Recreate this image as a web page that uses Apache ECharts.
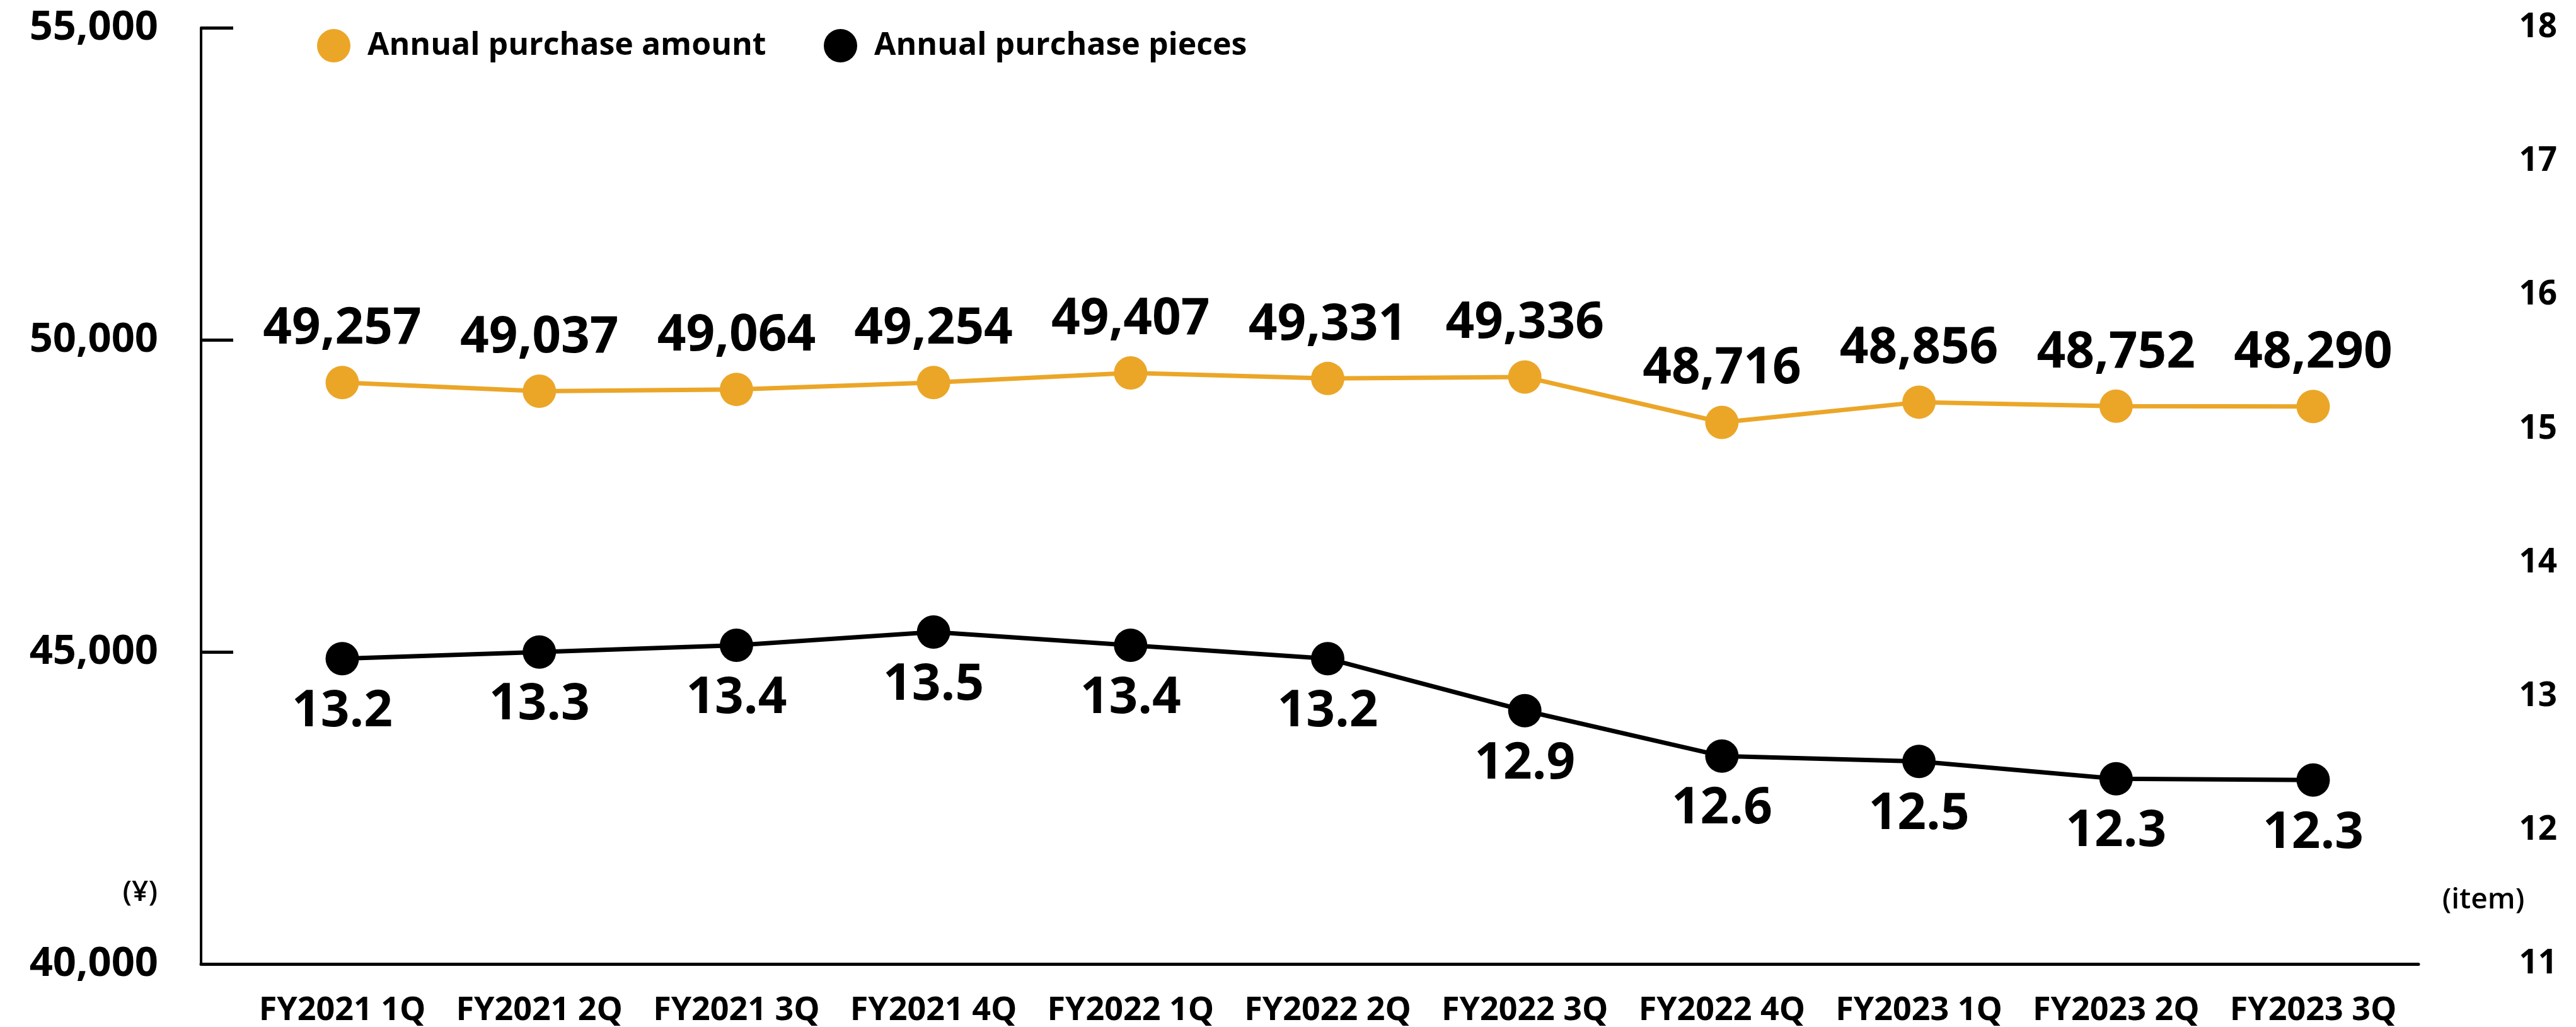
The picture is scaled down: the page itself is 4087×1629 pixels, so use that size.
<!DOCTYPE html>
<html>
<head>
<meta charset="utf-8">
<script src="https://cdn.jsdelivr.net/npm/echarts@6/dist/echarts.min.js"></script>
<style>
  html, body { margin: 0; padding: 0; background: #ffffff; }
  #chart { width: 4087px; height: 1629px; }
</style>
</head>
<body>
<div id="chart"></div>
<script>
// ---- data ----
const categories = ['FY2021 1Q', 'FY2021 2Q', 'FY2021 3Q', 'FY2021 4Q', 'FY2022 1Q', 'FY2022 2Q',
                    'FY2022 3Q', 'FY2022 4Q', 'FY2023 1Q', 'FY2023 2Q', 'FY2023 3Q'];
// plotted positions
const amountValues = [49300, 49160, 49190, 49300, 49455, 49365, 49390, 48660, 48985, 48920, 48915];
const piecesValues = [13.27, 13.32, 13.37, 13.47, 13.37, 13.27, 12.88, 12.54, 12.50, 12.37, 12.36];
// printed data labels
const amountLabels = ['49,257', '49,037', '49,064', '49,254', '49,407', '49,331', '49,336', '48,716', '48,856', '48,752', '48,290'];
const piecesLabels = ['13.2', '13.3', '13.4', '13.5', '13.4', '13.2', '12.9', '12.6', '12.5', '12.3', '12.3'];
const amountName = 'Annual purchase amount';
const piecesName = 'Annual purchase pieces';
const leftAxisTicks = [40000, 55000, 5000];   // min, max, interval
const rightAxisTicks = [11, 18, 1];

// ---- style ----
const ORANGE = '#EBA628';
const INK = '#000000';
const FONT = '"Open Sans", "DejaVu Sans", sans-serif';

const chart = echarts.init(document.getElementById('chart'), null, { renderer: 'canvas' });

const option = {
  backgroundColor: '#ffffff',
  animation: false,
  textStyle: { fontFamily: FONT, color: INK },
  legend: [
    {
      left: 503, top: 46, padding: 0,
      icon: 'circle', itemWidth: 53, itemHeight: 53,
      data: [amountName],
      textStyle: { fontFamily: FONT, fontSize: 50, fontWeight: 'bold', color: INK, padding: [0, 0, 0, 22] }
    },
    {
      left: 1307, top: 46, padding: 0,
      icon: 'circle', itemWidth: 53, itemHeight: 53,
      data: [piecesName],
      textStyle: { fontFamily: FONT, fontSize: 50, fontWeight: 'bold', color: INK, padding: [0, 0, 0, 22] }
    }
  ],
  grid: [
    { left: 319, right: 250, top: 44, bottom: 100, containLabel: false },
    { left: 543, right: 417, top: 44, bottom: 100, containLabel: false }
  ],
  xAxis: [
    {
      gridIndex: 0, type: 'category', data: [''], boundaryGap: true,
      axisLine: { show: true, lineStyle: { color: INK, width: 5 } },
      axisTick: { show: false }, axisLabel: { show: false }, splitLine: { show: false }
    },
    {
      gridIndex: 1, type: 'category', data: categories, boundaryGap: false,
      axisLine: { show: false }, axisTick: { show: false }, splitLine: { show: false },
      axisLabel: { interval: 0, margin: 52, fontFamily: FONT, fontSize: 52, fontWeight: 'bold', color: INK }
    }
  ],
  yAxis: [
    {
      gridIndex: 0, type: 'value', position: 'left',
      min: leftAxisTicks[0], max: leftAxisTicks[1], interval: leftAxisTicks[2],
      axisLine: { show: true, lineStyle: { color: INK, width: 4 } },
      axisTick: { show: true, inside: true, length: 51, lineStyle: { color: INK, width: 5 } },
      splitLine: { show: false },
      axisLabel: {
        margin: 68, fontFamily: FONT, fontSize: 65, fontWeight: 'bold', color: INK,
        formatter: v => v.toLocaleString('en-US')
      }
    },
    {
      gridIndex: 0, type: 'value', position: 'right',
      min: rightAxisTicks[0], max: rightAxisTicks[1], interval: rightAxisTicks[2],
      axisLine: { show: false }, axisTick: { show: false }, splitLine: { show: false },
      axisLabel: { margin: 220, align: 'right', fontFamily: FONT, fontSize: 53, fontWeight: 'bold', color: INK }
    },
    {
      gridIndex: 1, type: 'value', show: false,
      min: leftAxisTicks[0], max: leftAxisTicks[1], interval: leftAxisTicks[2],
      splitLine: { show: false }
    },
    {
      gridIndex: 1, type: 'value', show: false,
      min: rightAxisTicks[0], max: rightAxisTicks[1], interval: rightAxisTicks[2],
      splitLine: { show: false }
    }
  ],
  graphic: [
    {
      type: 'text', x: 250, y: 1416,
      style: { text: '(¥)', align: 'right', verticalAlign: 'middle', fontFamily: FONT, fontSize: 46, fontWeight: 600, fill: INK }
    },
    {
      type: 'text', x: 3940, y: 1428,
      style: { text: '(item)', align: 'center', verticalAlign: 'middle', fontFamily: FONT, fontSize: 46, fontWeight: 600, fill: INK }
    }
  ],
  series: [
    {
      name: amountName, type: 'line', xAxisIndex: 1, yAxisIndex: 2,
      data: amountValues,
      symbol: 'circle', symbolSize: 53,
      itemStyle: { color: ORANGE },
      lineStyle: { color: ORANGE, width: 7 },
      label: {
        show: true, position: 'top', distance: 18,
        fontFamily: FONT, fontSize: 80, fontWeight: 'bold', color: INK,
        formatter: p => amountLabels[p.dataIndex]
      },
      z: 3
    },
    {
      name: piecesName, type: 'line', xAxisIndex: 1, yAxisIndex: 3,
      data: piecesValues,
      symbol: 'circle', symbolSize: 53,
      itemStyle: { color: INK },
      lineStyle: { color: INK, width: 7 },
      label: {
        show: true, position: 'bottom', distance: 18,
        fontFamily: FONT, fontSize: 80, fontWeight: 'bold', color: INK,
        formatter: p => piecesLabels[p.dataIndex]
      },
      z: 3
    }
  ]
};

chart.setOption(option);
</script>
</body>
</html>
